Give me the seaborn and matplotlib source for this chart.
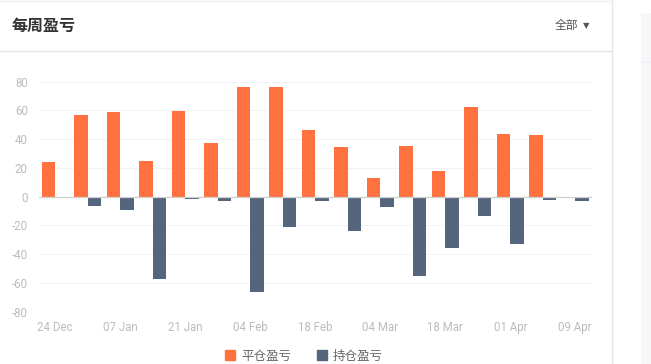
import numpy as np
import pandas as pd
import matplotlib
matplotlib.use("Agg")
import matplotlib.pyplot as plt
import seaborn as sns
from matplotlib.patches import Rectangle
from matplotlib.lines import Line2D

# datos
weeks = ["24 Dec", "31 Dec", "07 Jan", "14 Jan", "21 Jan", "28 Jan", "04 Feb", "11 Feb",
         "18 Feb", "25 Feb", "04 Mar", "11 Mar", "18 Mar", "25 Mar", "01 Apr", "08 Apr", "09 Apr"]
closed_pnl = [24, 57, 59, 25, 59.5, 37.5, 76.5, 76, 46.5, 34.5, 13, 35.5, 18, 62.5, 43.5, 43, 0]
open_pnl = [-0.4, -6.7, -9.5, -57.3, -1.4, -2.8, -66.5, -21, -2.8, -24, -7, -55.3, -35.7,
            -13.7, -33, -2.6, -3.2]
series_names = ["平仓盈亏", "持仓盈亏"]
colors = ["#FF7240", "#56657E"]
y_ticks = [-80, -60, -40, -20, 0, 20, 40, 60, 80]

df = pd.DataFrame({
    "week": weeks * 2,
    "value": closed_pnl + open_pnl,
    "tipo": [series_names[0]] * len(weeks) + [series_names[1]] * len(weeks),
})

sns.set_style("white")
plt.rcParams["font.family"] = ["Noto Sans CJK SC", "DejaVu Sans"]
plt.rcParams["axes.unicode_minus"] = False

fig = plt.figure(figsize=(6.51, 3.64), dpi=100)
W, H = 651, 364

# tarjeta y cabecera
fig.add_artist(Line2D([0, 612 / W], [1 - 51 / H, 1 - 51 / H], color="#e6e6e6", lw=1))
fig.add_artist(Line2D([612 / W, 612 / W], [0, 1], color="#e6e6e6", lw=1))
fig.add_artist(Line2D([0, 612 / W], [1 - 1 / H, 1 - 1 / H], color="#eeeeee", lw=1))
fig.add_artist(Rectangle((641 / W, 0), 20 / W, 1 - 13 / H, color="#f6f7f9", lw=0))
fig.add_artist(Line2D([641 / W, 1], [1 - 62 / H, 1 - 62 / H], color="#eceef1", lw=1))

fig.text(12 / W, 1 - 26 / H, "每周盈亏", fontsize=11.5, fontweight="bold", color="#333333",
         va="center", ha="left")
fig.text(555 / W, 1 - 26 / H, "全部", fontsize=8.5, color="#555555", va="center", ha="left")
fig.text(583 / W, 1 - 26 / H, "▼", fontsize=6, color="#555555", va="center", ha="left",
         family=["DejaVu Sans"])

ax = fig.add_axes([39 / W, 1 - 311.7 / H, (591.5 - 39) / W, (311.7 - 81.7) / H])
sns.barplot(data=df, x="week", y="value", hue="tipo", hue_order=series_names,
            palette=colors, width=0.82, gap=0, linewidth=0, saturation=1,
            errorbar=None, legend=False, ax=ax)

ax.set_xlim(-0.5, len(weeks) - 0.5)
ax.set_ylim(-80, 80)
ax.set_yticks(y_ticks)
ax.set_yticklabels([str(v) for v in y_ticks])
ax.set_xticks(range(0, len(weeks), 2))
ax.set_xticklabels(weeks[::2])
for lab in ax.get_xticklabels() + ax.get_yticklabels():
    lab.set_family(["Roboto", "DejaVu Sans"])
ax.tick_params(axis="both", length=0, labelsize=8.3, colors="#bcbcbc")
ax.tick_params(axis="y", pad=8)
ax.tick_params(axis="x", pad=7)
ax.set_xlabel("")
ax.set_ylabel("")
for v in y_ticks:
    if v != 0:
        ax.axhline(v, color="#f3f3f3", lw=0.8, zorder=0)
ax.axhline(0, color="#cfcfcf", lw=0.9, zorder=3)
sns.despine(ax=ax, left=True, bottom=True)

# leyenda abajo
handles = [Rectangle((0, 0), 1, 1, color=c) for c in colors]
fig.legend(handles, series_names, loc="center", bbox_to_anchor=(304 / W, 1 - 356 / H),
           ncol=2, frameon=False, fontsize=9, handlelength=0.8, handleheight=0.8,
           columnspacing=2.0, handletextpad=0.5, labelcolor="#666666",
           borderpad=0.1)

fig.savefig("out.png", dpi=100)
